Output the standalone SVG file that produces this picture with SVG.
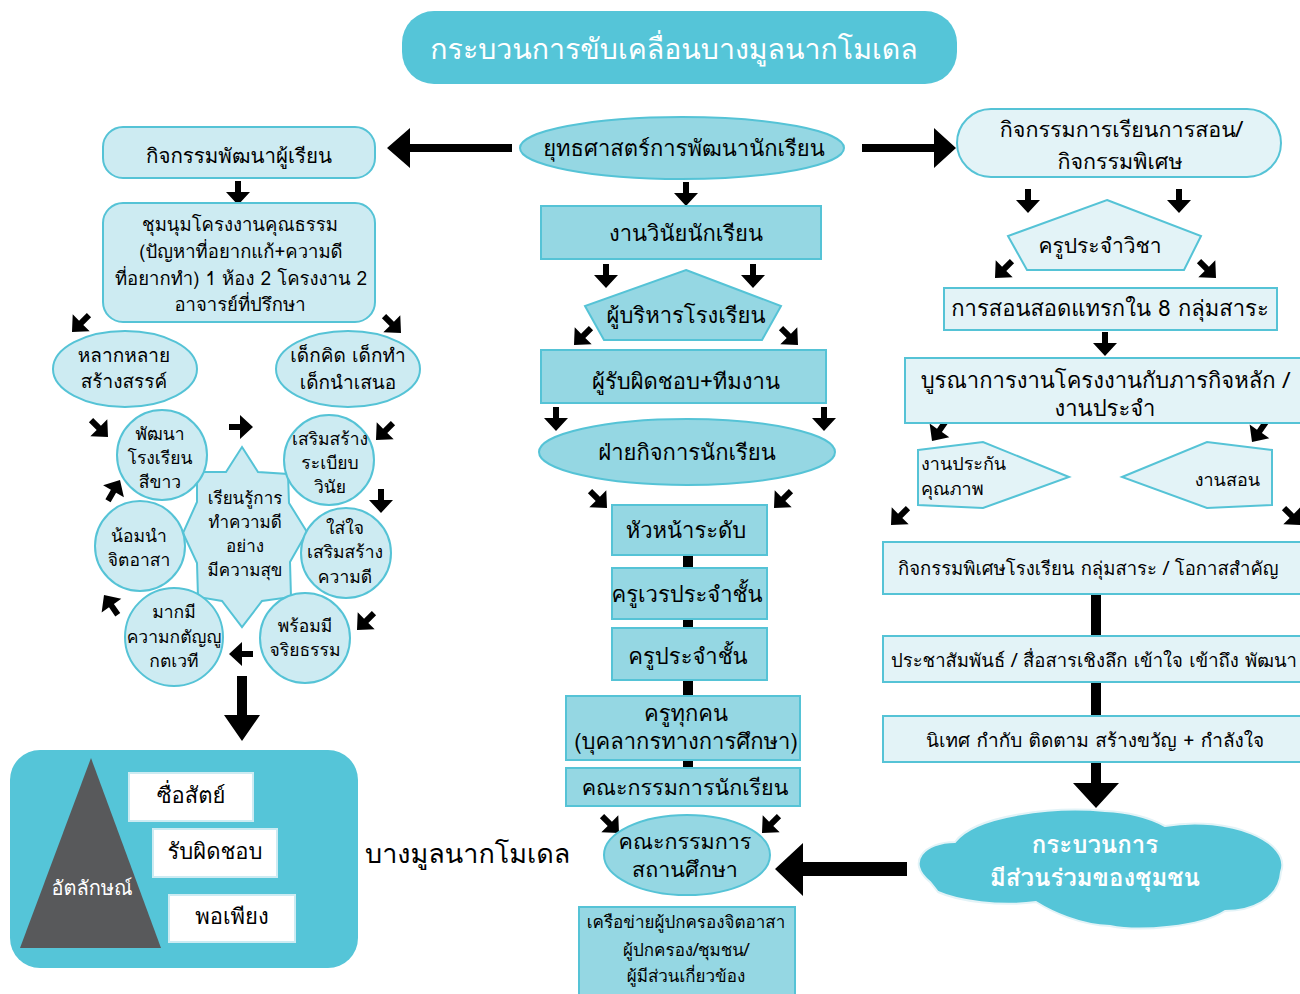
<svg xmlns="http://www.w3.org/2000/svg" xmlns:xlink="http://www.w3.org/1999/xlink" width="1300" height="994" viewBox="0 0 1300 994">
<style>
.lt{fill:#CDEBF2;stroke:#55C3D6;stroke-width:2}
.md{fill:#95D7E3;stroke:#55C3D6;stroke-width:2}
.rt{fill:#E3F3F7;stroke:#55C3D6;stroke-width:2}
.wb{fill:#FFFFFF;stroke:#CDEBF2;stroke-width:2}
.t{font-family:"Loma","Noto Sans Thai Looped","Noto Sans Thai","Noto Sans","DejaVu Sans",sans-serif;fill:#000;text-anchor:middle}
.s{text-anchor:start}
.e{text-anchor:end}
.w{fill:#FFFFFF}
.b{font-weight:bold}
.f17{font-size:17px}.f175{font-size:17.5px}.f18{font-size:18px}.f185{font-size:18.5px}.f19{font-size:19px}.f20{font-size:20px}.f205{font-size:20.5px}.f21{font-size:21px}.f215{font-size:21.5px}.f22{font-size:22px}.f24{font-size:24px}.f27{font-size:27px}.f285{font-size:28.5px}
.bk{fill:#000}
.bar{stroke:#000;stroke-width:10}
</style>
<defs>
<path id="sa" d="M-24,-3 L-13,-3 L-13,-12 L0,0 L-13,12 L-13,3 L-24,3 Z"/>
</defs>

<g id="connectors" class="bk">
<line class="bar" x1="688" y1="555" x2="688" y2="770"/>
<line class="bar" x1="1096" y1="594" x2="1096" y2="765"/>
<path d="M512,144 L410,144 L410,128 L387,148 L410,168 L410,152 L512,152 Z"/>
<path d="M862,144 L934,144 L934,128 L956,148 L934,168 L934,152 L862,152 Z"/>
<path d="M237,676 L237,715 L224,715 L242,741 L260,715 L247,715 L247,676 Z"/>
<path d="M291,843 L322,843 L322,826 L353,853 L322,880 L322,863 L291,863 Z"/>
<path d="M907,862 L803,862 L803,843 L775,869 L803,896 L803,876 L907,876 Z"/>
<path d="M1091,762 L1091,783 L1073,783 L1096,808 L1119,783 L1101,783 L1101,762 Z"/>
<use xlink:href="#sa" transform="translate(238,205) rotate(90)"/>
<use xlink:href="#sa" transform="translate(72,332) rotate(135)"/>
<use xlink:href="#sa" transform="translate(401,333) rotate(45)"/>
<use xlink:href="#sa" transform="translate(108,437) rotate(45)"/>
<use xlink:href="#sa" transform="translate(253,427) rotate(0)"/>
<use xlink:href="#sa" transform="translate(376,440) rotate(135)"/>
<use xlink:href="#sa" transform="translate(381,513) rotate(90)"/>
<use xlink:href="#sa" transform="translate(357,630) rotate(135)"/>
<use xlink:href="#sa" transform="translate(229,654) rotate(180)"/>
<use xlink:href="#sa" transform="translate(104,595) rotate(-125)"/>
<use xlink:href="#sa" transform="translate(120,480) rotate(-60)"/>
<use xlink:href="#sa" transform="translate(686,206) rotate(90)"/>
<use xlink:href="#sa" transform="translate(606,288) rotate(90)"/>
<use xlink:href="#sa" transform="translate(753,288) rotate(90)"/>
<use xlink:href="#sa" transform="translate(574,345) rotate(135)"/>
<use xlink:href="#sa" transform="translate(798,345) rotate(45)"/>
<use xlink:href="#sa" transform="translate(556,431) rotate(90)"/>
<use xlink:href="#sa" transform="translate(824,431) rotate(90)"/>
<use xlink:href="#sa" transform="translate(607,508) rotate(45)"/>
<use xlink:href="#sa" transform="translate(774,508) rotate(135)"/>
<use xlink:href="#sa" transform="translate(619,833) rotate(45)"/>
<use xlink:href="#sa" transform="translate(762,833) rotate(135)"/>
<use xlink:href="#sa" transform="translate(1028,213) rotate(90)"/>
<use xlink:href="#sa" transform="translate(1179,213) rotate(90)"/>
<use xlink:href="#sa" transform="translate(995,278) rotate(135)"/>
<use xlink:href="#sa" transform="translate(1216,278) rotate(45)"/>
<use xlink:href="#sa" transform="translate(1105,356) rotate(90)"/>
<use xlink:href="#sa" transform="translate(932,441) rotate(125)"/>
<use xlink:href="#sa" transform="translate(1252,442) rotate(125)"/>
<use xlink:href="#sa" transform="translate(891,525) rotate(135)"/>
<use xlink:href="#sa" transform="translate(1301,525) rotate(45)"/>
</g>

<g id="title">
<rect x="402" y="11" width="555" height="73" rx="32" fill="#55C5D8"/>
<text class="t w f285" x="674" y="59">กระบวนการขับเคลื่อนบางมูลนากโมเดล</text>
</g>

<g id="n-dev">
<rect class="lt" x="103" y="127" width="272" height="51" rx="20"/>
<text class="t f205" x="239" y="163">กิจกรรมพัฒนาผู้เรียน</text>
</g>
<g id="n-club">
<rect class="lt" x="103" y="203" width="272" height="119" rx="20"/>
<text class="t f185" x="240" y="231">ชุมนุมโครงงานคุณธรรม</text>
<text class="t f185" x="241" y="258">(ปัญหาที่อยากแก้+ความดี</text>
<text class="t f185" x="241" y="285">ที่อยากทำ) 1 ห้อง 2 โครงงาน 2</text>
<text class="t f185" x="240" y="311">อาจารย์ที่ปรึกษา</text>
</g>
<g id="n-variety">
<ellipse class="lt" cx="125" cy="369" rx="72" ry="38"/>
<text class="t f19" x="124" y="362">หลากหลาย</text>
<text class="t f19" x="124" y="388">สร้างสรรค์</text>
</g>
<g id="n-kids">
<ellipse class="lt" cx="348" cy="369" rx="72" ry="38"/>
<text class="t f19" x="348" y="362">เด็กคิด เด็กทำ</text>
<text class="t f19" x="348" y="389">เด็กนำเสนอ</text>
</g>
<g id="n-star">
<polygon class="lt" points="242,447 258,472 288,474 289,503 307,532 290,562 291,597 262,601 242,627 222,601 198,597 197,563 183,533 197,502 197,472 226,472"/>
<text class="t f17" x="245" y="504">เรียนรู้การ</text>
<text class="t f17" x="245" y="528">ทำความดี</text>
<text class="t f17" x="245" y="552">อย่าง</text>
<text class="t f17" x="245" y="576">มีความสุข</text>
</g>
<g id="n-white">
<circle class="lt" cx="162" cy="455" r="45"/>
<text class="t f175" x="160" y="440">พัฒนา</text>
<text class="t f175" x="160" y="464">โรงเรียน</text>
<text class="t f175" x="160" y="488">สีขาว</text>
</g>
<g id="n-disc">
<circle class="lt" cx="329" cy="460" r="45"/>
<text class="t f175" x="330" y="445">เสริมสร้าง</text>
<text class="t f175" x="330" y="469">ระเบียบ</text>
<text class="t f175" x="330" y="493">วินัย</text>
</g>
<g id="n-care">
<circle class="lt" cx="346" cy="553" r="45"/>
<text class="t f175" x="345" y="534">ใส่ใจ</text>
<text class="t f175" x="345" y="558">เสริมสร้าง</text>
<text class="t f175" x="345" y="583">ความดี</text>
</g>
<g id="n-ethic">
<circle class="lt" cx="305" cy="638" r="45"/>
<text class="t f175" x="305" y="632">พร้อมมี</text>
<text class="t f175" x="305" y="656">จริยธรรม</text>
</g>
<g id="n-grat">
<circle class="lt" cx="174" cy="637" r="49"/>
<text class="t f175" x="174" y="618">มากมี</text>
<text class="t f175" x="174" y="643">ความกตัญญู</text>
<text class="t f175" x="174" y="667">กตเวที</text>
</g>
<g id="n-vol">
<circle class="lt" cx="140" cy="546" r="45"/>
<text class="t f175" x="139" y="542">น้อมนำ</text>
<text class="t f175" x="139" y="566">จิตอาสา</text>
</g>
<g id="n-identity">
<rect x="10" y="750" width="348" height="218" rx="30" fill="#55C5D8"/>
<polygon points="91,758 161,948 20,948" fill="#58595B"/>
<text class="t w f20" x="92" y="895">อัตลักษณ์</text>
<rect class="wb" x="129" y="773" width="124" height="48"/>
<text class="t f22" x="191" y="803">ซื่อสัตย์</text>
<rect class="wb" x="153" y="829" width="124" height="48"/>
<text class="t f22" x="215" y="859">รับผิดชอบ</text>
<rect class="wb" x="169" y="895" width="126" height="47"/>
<text class="t f22" x="232" y="924">พอเพียง</text>
</g>
<g id="n-model">
<text class="t s f27" x="365" y="863">บางมูลนากโมเดล</text>
</g>

<g id="n-strategy">
<ellipse class="md" cx="682" cy="148" rx="162" ry="31"/>
<text class="t f22" x="684" y="156">ยุทธศาสตร์การพัฒนานักเรียน</text>
</g>
<g id="n-discwork">
<rect class="md" x="541" y="206" width="280" height="53"/>
<text class="t f22" x="686" y="241">งานวินัยนักเรียน</text>
</g>
<g id="n-admin">
<polygon class="md" points="686,270 781,306 762,340 604,340 585,306"/>
<text class="t f22" x="686" y="323">ผู้บริหารโรงเรียน</text>
</g>
<g id="n-resp">
<rect class="md" x="541" y="350" width="285" height="53"/>
<text class="t f22" x="686" y="389">ผู้รับผิดชอบ+ทีมงาน</text>
</g>
<g id="n-affairs">
<ellipse class="md" cx="687" cy="452" rx="148" ry="33"/>
<text class="t f22" x="687" y="460">ฝ่ายกิจการนักเรียน</text>
</g>
<g id="n-head">
<rect class="md" x="612" y="505" width="155" height="50"/>
<text class="t f22" x="686" y="538">หัวหน้าระดับ</text>
</g>
<g id="n-duty">
<rect class="md" x="612" y="568" width="155" height="51"/>
<text class="t f22" x="687" y="602">ครูเวรประจำชั้น</text>
</g>
<g id="n-class">
<rect class="md" x="612" y="628" width="155" height="52"/>
<text class="t f22" x="688" y="664">ครูประจำชั้น</text>
</g>
<g id="n-all">
<rect class="md" x="566" y="696" width="234" height="64"/>
<text class="t f22" x="686" y="721">ครูทุกคน</text>
<text class="t f22" x="686" y="749">(บุคลากรทางการศึกษา)</text>
</g>
<g id="n-stcom">
<rect class="md" x="566" y="768" width="234" height="38"/>
<text class="t f215" x="685" y="795">คณะกรรมการนักเรียน</text>
</g>
<g id="n-board">
<ellipse class="md" cx="687" cy="855" rx="83" ry="40"/>
<text class="t f215" x="685" y="849">คณะกรรมการ</text>
<text class="t f215" x="685" y="877">สถานศึกษา</text>
</g>
<g id="n-network">
<rect class="md" x="579" y="907" width="216" height="95"/>
<text class="t f17" x="686" y="928">เครือข่ายผู้ปกครองจิตอาสา</text>
<text class="t f17" x="686" y="956">ผู้ปกครอง/ชุมชน/</text>
<text class="t f17" x="686" y="982">ผู้มีส่วนเกี่ยวข้อง</text>
</g>

<g id="n-teach">
<rect class="rt" x="957" y="109" width="324" height="68" rx="34"/>
<text class="t f215" x="1121" y="137">กิจกรรมการเรียนการสอน/</text>
<text class="t f215" x="1120" y="169">กิจกรรมพิเศษ</text>
</g>
<g id="n-subj">
<polygon class="rt" points="1107,200 1201,236 1184,270 1027,270 1008,236"/>
<text class="t f21" x="1100" y="253">ครูประจำวิชา</text>
</g>
<g id="n-insert">
<rect class="rt" x="944" y="288" width="333" height="42"/>
<text class="t f22" x="1110" y="316">การสอนสอดแทรกใน 8 กลุ่มสาระ</text>
</g>
<g id="n-integ">
<rect class="rt" x="905" y="358" width="405" height="65"/>
<text class="t f22" x="1105" y="388">บูรณาการงานโครงงานกับภารกิจหลัก /</text>
<text class="t f22" x="1105" y="416">งานประจำ</text>
</g>
<g id="n-qa">
<polygon class="rt" points="918,450 983,442 1069,477 983,508 918,505"/>
<text class="t s f18" x="921" y="470">งานประกัน</text>
<text class="t s f18" x="921" y="495">คุณภาพ</text>
</g>
<g id="n-teachwork">
<polygon class="rt" points="1122,477 1207,442 1272,450 1272,505 1207,508"/>
<text class="t e f18" x="1260" y="486">งานสอน</text>
</g>
<g id="n-special">
<rect class="rt" x="883" y="542" width="427" height="52"/>
<text class="t s f185" x="898" y="575">กิจกรรมพิเศษโรงเรียน กลุ่มสาระ / โอกาสสำคัญ</text>
</g>
<g id="n-pr">
<rect class="rt" x="883" y="636" width="427" height="46"/>
<text class="t s f185" x="891" y="667">ประชาสัมพันธ์ / สื่อสารเชิงลึก เข้าใจ เข้าถึง พัฒนา</text>
</g>
<g id="n-super">
<rect class="rt" x="883" y="716" width="427" height="46"/>
<text class="t s f19" x="926" y="747">นิเทศ กำกับ ติดตาม สร้างขวัญ + กำลังใจ</text>
</g>
<g id="n-cloud">
<path d="M930,882 C905,862 925,842 955,842 C975,815 1055,806 1105,811 C1130,812 1150,818 1165,826 C1230,815 1292,842 1281,872 C1279,900 1250,911 1225,911 C1200,927 1140,932 1110,926 C1080,925 1052,912 1036,902 C1000,907 958,901 938,892 Z" fill="#55C5D8" stroke="#E3F3F7" stroke-width="2"/>
<text class="t w b f24" x="1095" y="853">กระบวนการ</text>
<text class="t w b f24" x="1095" y="886">มีส่วนร่วมของชุมชน</text>
</g>
</svg>
